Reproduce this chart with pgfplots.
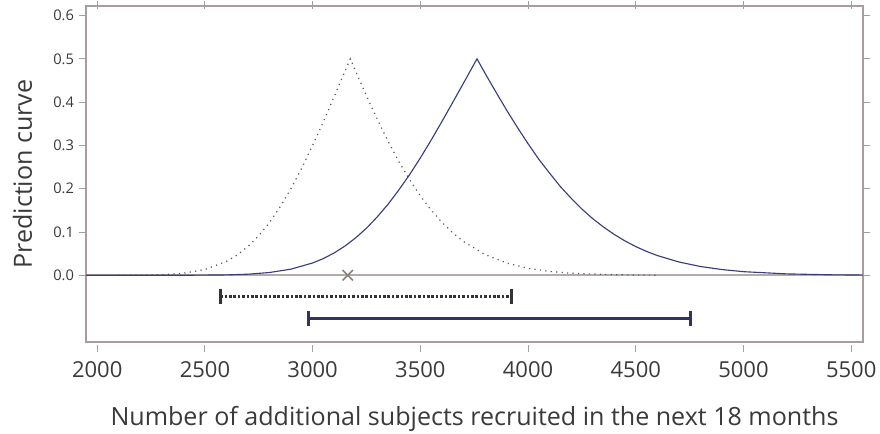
\documentclass[border=0pt]{standalone}
\usepackage{fontspec}
\setmainfont{Open Sans}
\usepackage{pgfplots}
\pgfplotsset{compat=1.18}
\definecolor{navy}{HTML}{3A3D7C}
\definecolor{navyint}{HTML}{2F3368}
\definecolor{boxc}{HTML}{A89C9C}
\definecolor{basec}{HTML}{B3AAAA}
\definecolor{txt}{HTML}{3A3A3A}
\definecolor{xmark}{HTML}{8A807F}
\begin{document}
\begin{tikzpicture}[x=1pt,y=1pt]
\begin{axis}[
  scale only axis,
  width=582.75pt, height=252pt,
  xmin=1948, xmax=5555, ymin=-0.154, ymax=0.622,
  axis line style={boxc, line width=0.9pt},
  xtick={2000,2500,...,5500},
  ytick={0,0.1,...,0.6},
  tick align=outside,
  tick style={boxc, line width=0.7pt},
  major tick length=5.5pt,
  x tick style={yshift=-2pt},
  /pgf/number format/assume math mode=true,
  xticklabel style={font=\fontsize{16.5}{18}\selectfont, text=txt, yshift=-6pt},
  yticklabel style={font=\fontsize{11}{13}\selectfont, text=txt, /pgf/number format/fixed, /pgf/number format/fixed zerofill, /pgf/number format/precision=1},
  scaled y ticks=false,
  x tick label style={/pgf/number format/1000 sep={}},
  xlabel={Number of additional subjects recruited in the next 18 months},
  ylabel={Prediction curve},
  xlabel style={font=\fontsize{18.8}{21}\selectfont, text=txt, yshift=-14pt},
  ylabel style={font=\fontsize{18.8}{21}\selectfont, text=txt, yshift=9pt},
  clip=true,
]
% baseline
\addplot[basec, line width=1.5pt] coordinates {(1948,0) (5555,0)};
% dotted curve
\addplot[black!65, line width=0.9pt, dash pattern=on 0.9pt off 3.2pt] coordinates {
(2100,0.0001) (2200,0.00034) (2300,0.0014) (2400,0.0048) (2500,0.0134) (2600,0.0322)
(2650,0.047) (2700,0.0667) (2750,0.0916) (2800,0.122) (2850,0.1587) (2900,0.201)
(2950,0.248) (3000,0.300) (3050,0.355) (3100,0.4125) (3150,0.471) (3175,0.5)
(3200,0.471) (3250,0.4145) (3300,0.3605) (3350,0.310) (3400,0.263) (3450,0.221)
(3500,0.1835) (3550,0.151) (3600,0.1224) (3650,0.0984) (3700,0.0783) (3800,0.0481)
(3900,0.0285) (4000,0.0163) (4100,0.009) (4200,0.0048) (4400,0.0013) (4600,0.0003)
};
% solid curve
\addplot[navy, line width=0.85pt] coordinates {
(1948,0) (2200,0.00002) (2400,0.0001) (2600,0.00094) (2700,0.0026) (2800,0.0065)
(2900,0.0143) (3000,0.0285) (3050,0.0387) (3100,0.0517) (3150,0.0675) (3200,0.0866)
(3250,0.1088) (3300,0.135) (3350,0.164) (3400,0.197) (3450,0.2324) (3500,0.271)
(3550,0.312) (3600,0.355) (3650,0.399) (3700,0.4435) (3763,0.5) (3800,0.467)
(3850,0.424) (3900,0.382) (3950,0.342) (4000,0.304) (4050,0.268) (4100,0.236)
(4150,0.205) (4200,0.178) (4250,0.153) (4300,0.131) (4350,0.1116) (4400,0.0944)
(4450,0.0794) (4500,0.0664) (4550,0.0552) (4600,0.0457) (4700,0.0308) (4800,0.0204)
(4900,0.0133) (5000,0.0084) (5200,0.0033) (5400,0.0012) (5555,0.0005)
};
% x marker
\addplot[xmark, only marks, mark=x, mark size=5.5pt, mark options={line width=1.2pt}] coordinates {(3163,0)};
% dotted interval
\addplot[black!80, line width=2.2pt, dash pattern=on 2pt off 1.3pt, mark=|, mark size=5.6pt, mark options={solid, line width=2.2pt}] coordinates {(2571,-0.048) (3924,-0.048)};
% solid interval
\addplot[navyint, line width=2.3pt, mark=|, mark size=5.6pt, mark options={solid, line width=2.2pt}] coordinates {(2981,-0.099) (4756,-0.099)};
\end{axis}
\pgfresetboundingbox
\path[use as bounding box] (-64.5pt,-69pt) rectangle (595.5pt,256.5pt);
\end{tikzpicture}
\end{document}
